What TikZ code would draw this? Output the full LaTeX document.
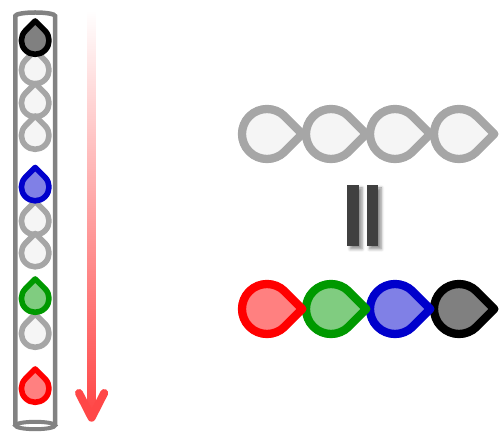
\documentclass[tikz,border=0pt]{standalone}
\usetikzlibrary{shadows.blur}
\definecolor{tubegray}{HTML}{828282}
\definecolor{dropgray}{HTML}{A6A6A6}
\definecolor{dropgrayfill}{HTML}{F5F5F5}
\definecolor{dropblack}{HTML}{000000}
\definecolor{dropblackfill}{HTML}{808080}
\definecolor{dropblue}{HTML}{0000CC}
\definecolor{dropbluefill}{HTML}{8080E6}
\definecolor{dropgreen}{HTML}{009900}
\definecolor{dropgreenfill}{HTML}{80CC80}
\definecolor{dropred}{HTML}{FF0000}
\definecolor{dropredfill}{HTML}{FF8080}
\definecolor{arrowred}{HTML}{FF4747}
\definecolor{eqgray}{HTML}{404040}
\tikzset{
  droppic/.pic={\path[pic actions] (45:#1pt) arc[start angle=45,end angle=315,radius=#1pt] -- (0:{1.41421*#1pt}) -- cycle;},
  smalldrop/.style={line width=5.6pt, line join=round},
  bigdrop/.style={line width=8.3pt, line join=round},
  graydrop/.style={draw=dropgray, fill=dropgrayfill},
  blackdrop/.style={draw=dropblack, fill=dropblackfill},
  bluedrop/.style={draw=dropblue, fill=dropbluefill},
  greendrop/.style={draw=dropgreen, fill=dropgreenfill},
  reddrop/.style={draw=dropred, fill=dropredfill},
  tubeline/.style={draw=tubegray, line width=4.5pt},
  eqbar/.style={fill=eqgray, blur shadow={shadow xshift=3pt, shadow yshift=-3pt, shadow blur radius=3pt, shadow opacity=45}},
  arrowhead/.style={draw=arrowred, line width=8pt, line cap=round, line join=round},
}
\begin{document}
\begin{tikzpicture}[x=1pt,y=1pt]
\useasboundingbox (0,0) rectangle (500,433);
% tube
\draw[tubeline] (15.3,7.5) -- (15.3,417) arc[start angle=180, end angle=0, x radius=19.9pt, y radius=3.5pt] -- (55.1,7.5);
\draw[tubeline, line width=4pt] (35.2,7.5) ellipse[x radius=19.9pt, y radius=3.7pt];
% drops in tube: gray first
\foreach \yy in {363,330,297.5,212,180,99.5}
  \pic[smalldrop, graydrop, rotate=90] at (35.2,\yy) {droppic=13.8};
\pic[smalldrop, blackdrop, rotate=90] at (35.2,392.5) {droppic=13.8};
\pic[smalldrop, bluedrop, rotate=90] at (35.2,246) {droppic=13.8};
\pic[smalldrop, greendrop, rotate=90] at (35.2,134.5) {droppic=13.8};
\pic[smalldrop, reddrop, rotate=90] at (35.2,44.5) {droppic=13.8};
% arrow
\coordinate (arrowstart) at (91.6,423);
\coordinate (arrowend) at (91.6,15.3);
\shade[top color=white, bottom color=arrowred] ([xshift=-4pt]arrowstart) rectangle ([xshift=4pt,yshift=6pt]arrowend);
\draw[arrowhead] ([xshift=-12.6pt,yshift=24.7pt]arrowend) -- (arrowend) -- ([xshift=12.6pt,yshift=24.7pt]arrowend);
% top row of gray drops
\foreach \xx in {459,395,331,267}
  \pic[bigdrop, graydrop] at (\xx,299) {droppic=25};
% equal sign
\fill[eqbar] (347.3,187) rectangle (359,248);
\fill[eqbar] (366.7,187) rectangle (378.3,248);
% bottom row of coloured drops
\pic[bigdrop, blackdrop] at (459,124) {droppic=25};
\pic[bigdrop, bluedrop] at (395,124) {droppic=25};
\pic[bigdrop, greendrop] at (331,124) {droppic=25};
\pic[bigdrop, reddrop] at (267,124) {droppic=25};
\end{tikzpicture}
\end{document}
